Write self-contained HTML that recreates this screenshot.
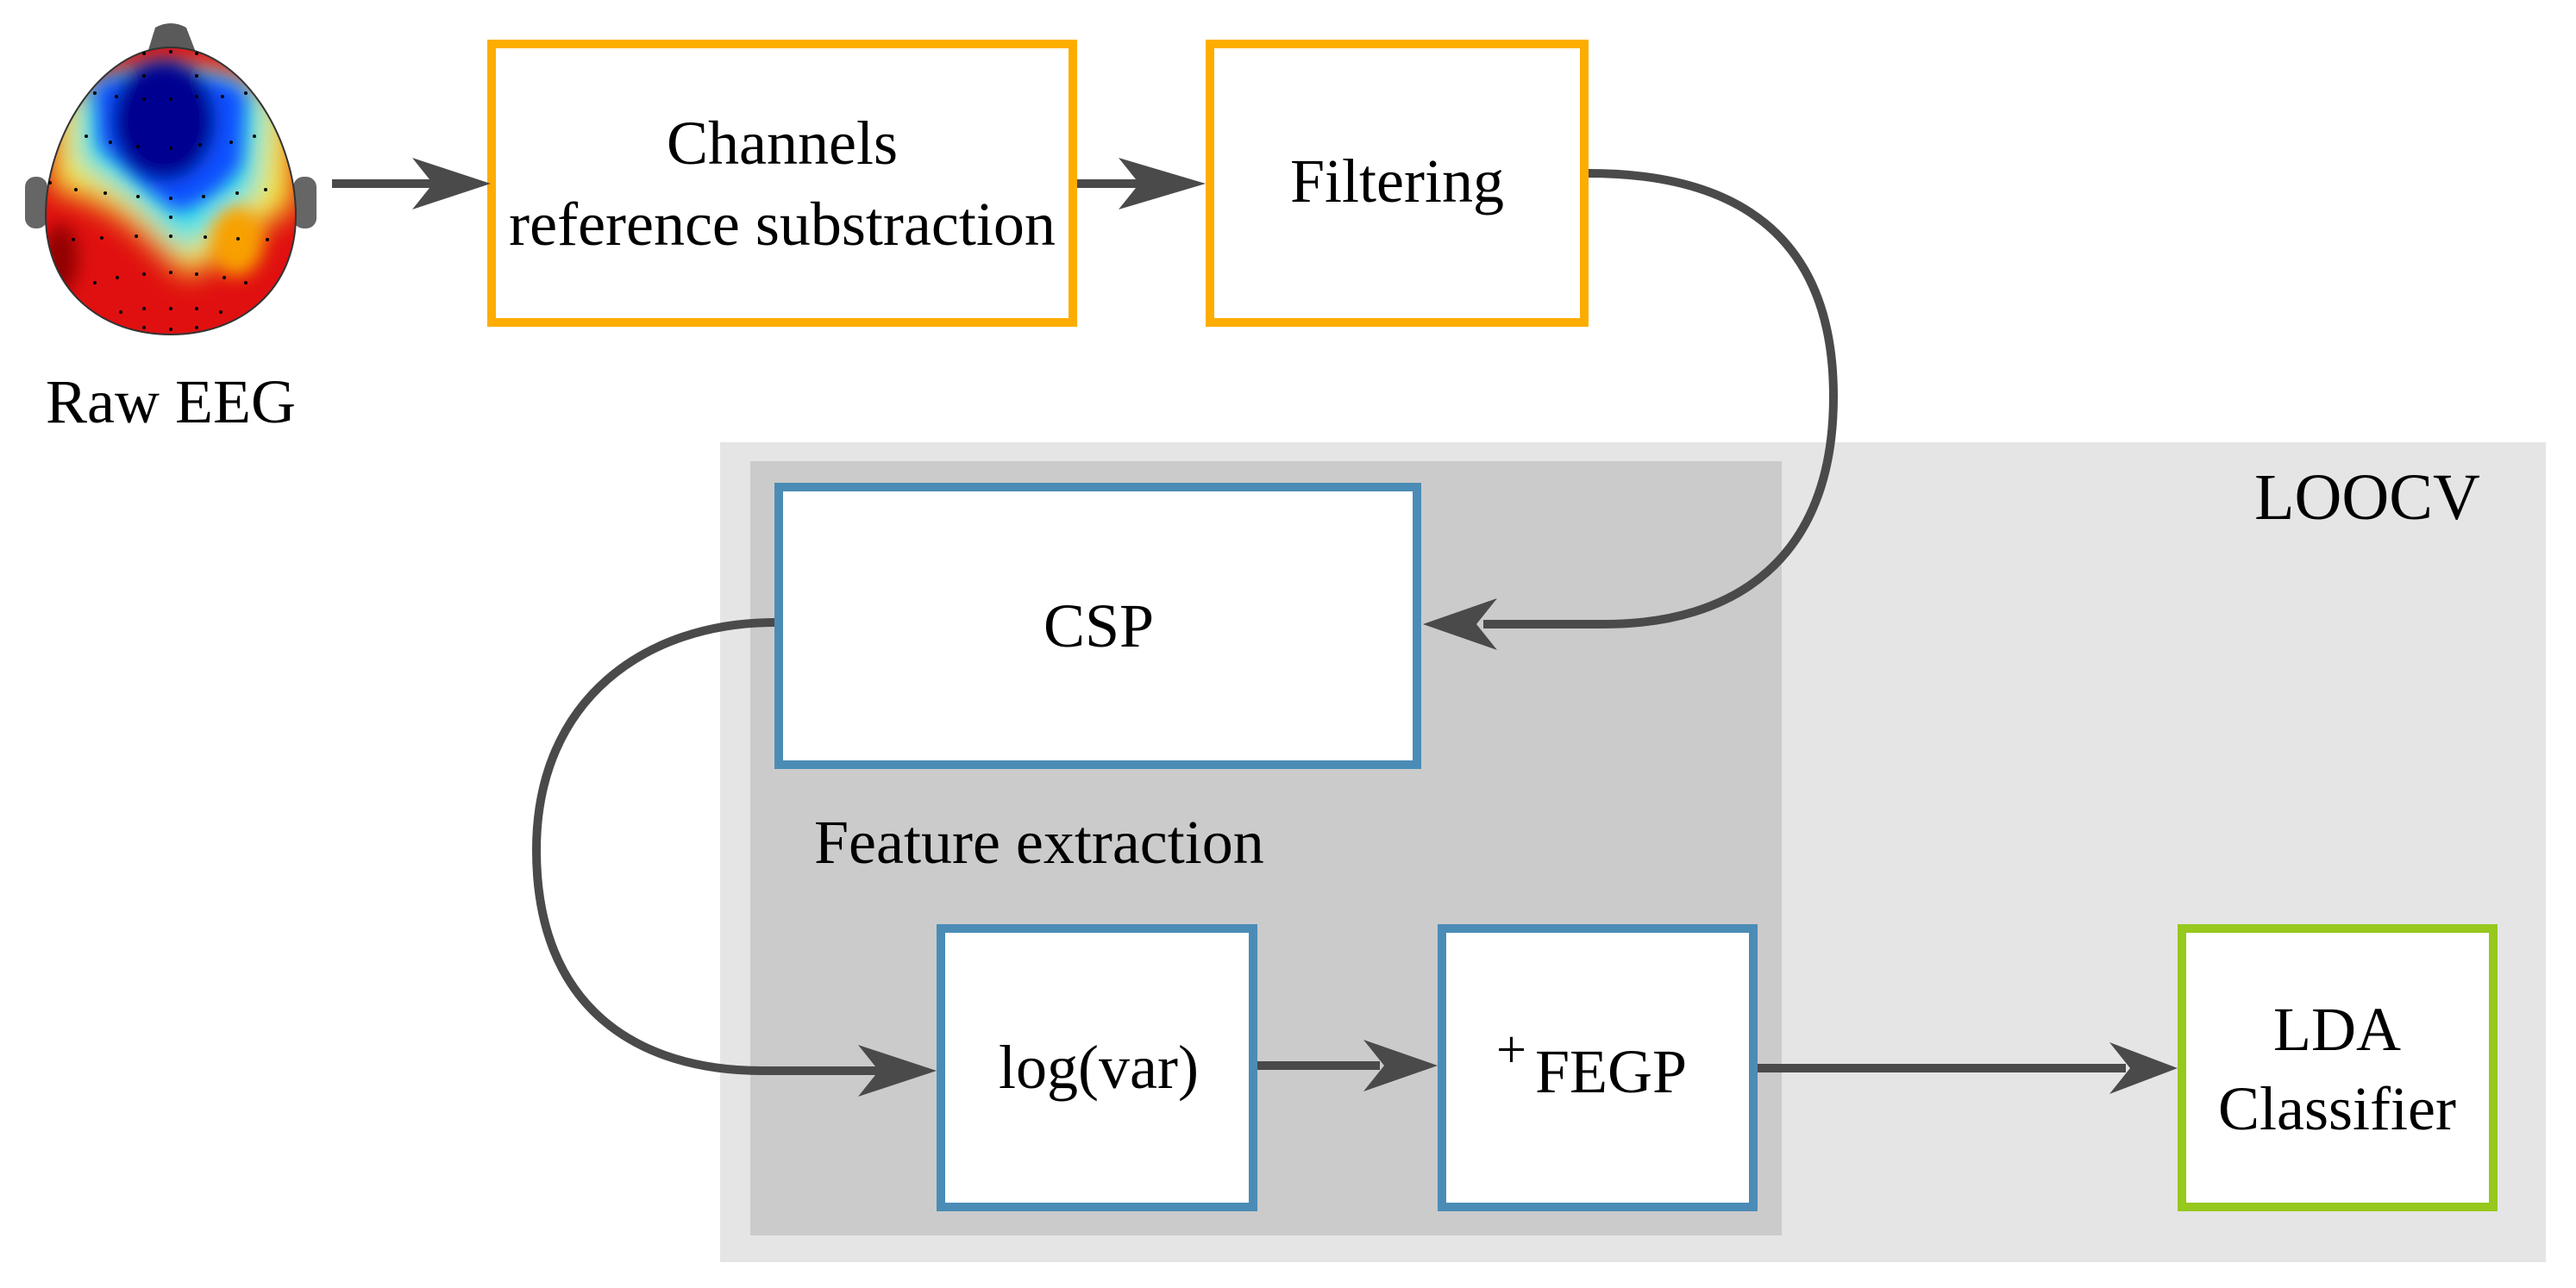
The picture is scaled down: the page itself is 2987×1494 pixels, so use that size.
<!DOCTYPE html>
<html><head><meta charset="utf-8"><style>
html,body{margin:0;padding:0;background:#fff;}
svg{display:block;}
svg text{font-family:"Liberation Serif","DejaVu Serif","Times New Roman",Times,serif;}
</style></head><body>
<svg width="2987" height="1494" viewBox="0 0 2987 1494" xmlns="http://www.w3.org/2000/svg">
<defs>
<clipPath id="hc"><path d="M198,55 C280,55 343,160 343,250 C343,335 280,388 198,388 C116,388 53,335 53,250 C53,160 116,55 198,55 Z"/></clipPath>
<filter id="bl" x="-50%" y="-50%" width="200%" height="200%"><feGaussianBlur stdDeviation="16"/></filter>
<filter id="bl2" x="-50%" y="-50%" width="200%" height="200%"><feGaussianBlur stdDeviation="10"/></filter>
</defs>
<!-- head -->
<path d="M172,58 L180,32 Q198,22 216,32 L226,58 Z" fill="#5a5a5a"/>
<rect x="29" y="205" width="26" height="60" rx="12" fill="#666"/>
<rect x="340" y="205" width="27" height="60" rx="12" fill="#666"/>
<g clip-path="url(#hc)">
<rect x="40" y="40" width="320" height="360" fill="#e01010"/>
<g filter="url(#bl)">
<path d="M60,130 C100,60 300,60 340,130 L340,240 C300,260 260,300 220,320 C180,300 160,240 60,220 Z" fill="#f5e830"/>
<path d="M90,110 C120,70 280,70 310,120 L300,220 C270,250 240,280 210,290 C180,260 150,220 90,190 Z" fill="#40e0e8"/>
</g>
<g filter="url(#bl2)">
<path d="M110,100 C140,80 270,80 285,110 L280,190 C260,220 230,240 205,245 C180,230 150,200 115,170 Z" fill="#1050ff"/>
<ellipse cx="190" cy="140" rx="60" ry="70" fill="#000090"/>
<ellipse cx="275" cy="280" rx="30" ry="40" fill="#f8a000"/>
<ellipse cx="70" cy="300" rx="20" ry="40" fill="#900000"/>
</g>
</g>
<path d="M198,55 C280,55 343,160 343,250 C343,335 280,388 198,388 C116,388 53,335 53,250 C53,160 116,55 198,55 Z" fill="none" stroke="#333" stroke-width="2"/>
<g fill="#000">
<circle cx="167" cy="62" r="2"/><circle cx="198" cy="60" r="2"/><circle cx="228" cy="62" r="2"/>
<circle cx="167" cy="88" r="2"/><circle cx="228" cy="88" r="2"/>
<circle cx="110" cy="108" r="2"/><circle cx="135" cy="112" r="2"/><circle cx="167" cy="115" r="2"/><circle cx="198" cy="115" r="2"/><circle cx="228" cy="112" r="2"/><circle cx="258" cy="112" r="2"/><circle cx="285" cy="108" r="2"/>
<circle cx="100" cy="158" r="2"/><circle cx="128" cy="165" r="2"/><circle cx="160" cy="170" r="2"/><circle cx="198" cy="172" r="2"/><circle cx="232" cy="168" r="2"/><circle cx="268" cy="165" r="2"/><circle cx="295" cy="158" r="2"/>
<circle cx="58" cy="212" r="2"/><circle cx="88" cy="220" r="2"/><circle cx="122" cy="224" r="2"/><circle cx="160" cy="228" r="2"/><circle cx="198" cy="230" r="2"/><circle cx="236" cy="228" r="2"/><circle cx="275" cy="224" r="2"/><circle cx="308" cy="220" r="2"/>
<circle cx="198" cy="252" r="2"/>
<circle cx="85" cy="278" r="2"/><circle cx="118" cy="276" r="2"/><circle cx="158" cy="274" r="2"/><circle cx="198" cy="274" r="2"/><circle cx="238" cy="275" r="2"/><circle cx="276" cy="277" r="2"/><circle cx="310" cy="278" r="2"/>
<circle cx="110" cy="328" r="2"/><circle cx="136" cy="322" r="2"/><circle cx="167" cy="318" r="2"/><circle cx="198" cy="316" r="2"/><circle cx="228" cy="318" r="2"/><circle cx="260" cy="322" r="2"/><circle cx="285" cy="328" r="2"/>
<circle cx="140" cy="362" r="2"/><circle cx="167" cy="358" r="2"/><circle cx="198" cy="358" r="2"/><circle cx="228" cy="358" r="2"/><circle cx="256" cy="362" r="2"/>
<circle cx="167" cy="380" r="2"/><circle cx="198" cy="382" r="2"/><circle cx="228" cy="380" r="2"/>
</g>
<text x="198" y="490" font-size="72" text-anchor="middle">Raw EEG</text>

<!-- background panels -->
<rect x="835" y="513" width="2117" height="951" fill="#e5e5e5"/>
<rect x="870" y="535" width="1196" height="898" fill="#cbcbcb"/>

<!-- orange boxes -->
<rect x="570" y="51" width="674" height="323" fill="#fff" stroke="#fdad00" stroke-width="10"/>
<text x="907" y="190" font-size="72" text-anchor="middle">Channels</text>
<text x="907" y="284" font-size="72" text-anchor="middle">reference substraction</text>
<rect x="1403" y="51" width="434" height="323" fill="#fff" stroke="#fdad00" stroke-width="10"/>
<text x="1620" y="234" font-size="72" text-anchor="middle">Filtering</text>

<!-- blue boxes -->
<rect x="903" y="565" width="740" height="322" fill="#fff" stroke="#4b8cb6" stroke-width="10"/>
<text x="1274" y="750" font-size="72" text-anchor="middle">CSP</text>
<text x="944" y="1001" font-size="72">Feature extraction</text>
<rect x="1091" y="1077" width="362" height="323" fill="#fff" stroke="#4b8cb6" stroke-width="10"/>
<text x="1274" y="1262" font-size="72" text-anchor="middle">log(var)</text>
<rect x="1672" y="1077" width="361" height="323" fill="#fff" stroke="#4b8cb6" stroke-width="10"/>
<text x="1735" y="1238" font-size="62">+</text>
<text x="1780" y="1267" font-size="72">FEGP</text>
<rect x="2530" y="1077" width="361" height="323" fill="#fff" stroke="#96c81e" stroke-width="10"/>
<text x="2710" y="1218" font-size="72" text-anchor="middle">LDA</text>
<text x="2710" y="1310" font-size="72" text-anchor="middle">Classifier</text>

<text x="2745" y="602" font-size="76" text-anchor="middle">LOOCV</text>

<!-- connectors -->
<g stroke="#4a4a4a" stroke-width="10" fill="none">
<line x1="385" y1="213" x2="520" y2="213"/>
<line x1="1249" y1="213" x2="1340" y2="213"/>
<path d="M1842,201 C2010,201 2126,270 2126,460 C2126,650 2010,724 1860,724 L1720,724"/>
<path d="M898,722 C750,722 622,810 622,986 C622,1170 740,1242 884,1242 L1020,1242"/>
<line x1="1458" y1="1236" x2="1600" y2="1236"/>
<line x1="2038" y1="1239" x2="2465" y2="1239"/>
</g>
<g fill="#4a4a4a">
<polygon points="569,213 478,183 502,213 478,243"/>
<polygon points="1398,213 1297,183 1321,213 1297,243"/>
<polygon points="1650,724 1736,694 1712,724 1736,754"/>
<polygon points="1086,1242 995,1212 1019,1242 995,1272"/>
<polygon points="1667,1236 1581,1206 1605,1236 1581,1266"/>
<polygon points="2525,1239 2446,1209 2470,1239 2446,1269"/>
</g>
</svg>
</body></html>
